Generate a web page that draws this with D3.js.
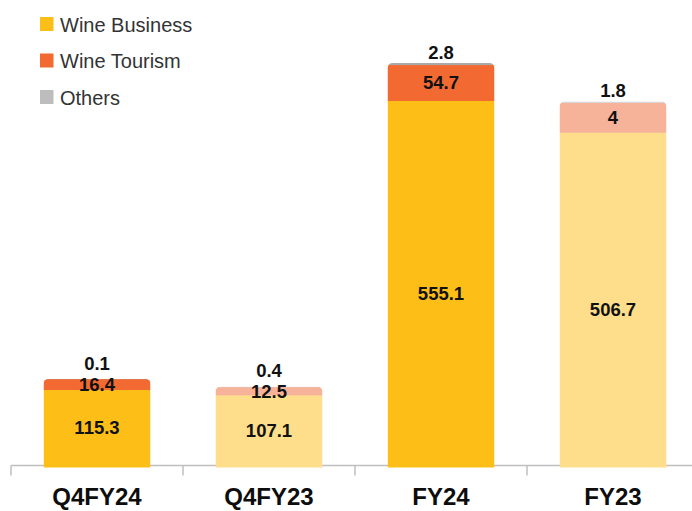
<!DOCTYPE html>
<html>
<head>
<meta charset="utf-8">
<script src="https://cdn.jsdelivr.net/npm/d3@7"></script>
<style>
  html, body { margin: 0; padding: 0; background: #ffffff; }
  svg { display: block; font-family: "Liberation Sans", Arial, sans-serif; }
</style>
</head>
<body>
<svg id="chart" width="692" height="511"></svg>
<script>
const categories = ["Q4FY24", "Q4FY23", "FY24", "FY23"];
const wineBusiness = [115.3, 107.1, 555.1, 506.7];
const wineTourism = [16.4, 12.5, 54.7, 45.5];
const wineTourismLabels = ["16.4", "12.5", "54.7", "4"];
const others = [0.1, 0.4, 2.8, 1.8];
const seriesNames = ["Wine Business", "Wine Tourism", "Others"];

const colorsCurrent = ["#FDBF17", "#F26A31", "#A9A9A9"];
const colorsPrior = ["#FEDE8A", "#F7B39A", "#D6D6D6"];

const svg = d3.select("#chart");
const W = 692, H = 511;
const baseY = 465.5;

const x = d3.scaleBand().domain(categories).range([11, 699])
  .paddingInner(0.378).paddingOuter(0.189);
const y = d3.scaleLinear().domain([0, 700]).range([baseY, baseY - 460]);

const rows = categories.map((c, i) => ({
  cat: c,
  current: c.endsWith("24"),
  vals: [wineBusiness[i], wineTourism[i], others[i]],
  labels: [String(wineBusiness[i]), wineTourismLabels[i], String(others[i])]
}));

const defs = svg.append("defs");
rows.forEach((r, i) => {
  const total = d3.sum(r.vals);
  defs.append("clipPath").attr("id", "clip" + i)
    .append("rect")
    .attr("x", x(r.cat)).attr("width", x.bandwidth())
    .attr("y", y(total)).attr("height", baseY - y(total) + 10)
    .attr("rx", 5).attr("ry", 5);
});

// axis
const axisG = svg.append("g");
axisG.append("line").attr("x1", 11).attr("x2", W).attr("y1", baseY).attr("y2", baseY)
  .attr("stroke", "#BFBFBF").attr("stroke-width", 1.5);
categories.forEach((c, i) => {
  const tx = i === 0 ? 11 : x(c) - (x.step() - x.bandwidth()) / 2;
  axisG.append("line").attr("x1", tx).attr("x2", tx).attr("y1", baseY).attr("y2", baseY + 10)
    .attr("stroke", "#BFBFBF").attr("stroke-width", 1.5);
});

// bars
rows.forEach((r, i) => {
  const g = svg.append("g").attr("clip-path", "url(#clip" + i + ")");
  let acc = 0;
  r.vals.forEach((v, k) => {
    const y0 = y(acc), y1 = y(acc + v);
    g.append("rect")
      .attr("x", x(r.cat)).attr("width", x.bandwidth())
      .attr("y", y1).attr("height", Math.max(0, y0 - y1) + (k === 0 ? 2 : 0.3))
      .attr("fill", (r.current ? colorsCurrent : colorsPrior)[k]);
    acc += v;
  });
});

// labels
rows.forEach((r, i) => {
  const cx = x(r.cat) + x.bandwidth() / 2;
  let acc = 0;
  let tourismY = 0;
  r.vals.forEach((v, k) => {
    const y0 = y(acc), y1 = y(acc + v);
    let ly;
    if (k < 2) {
      ly = (y0 + y1) / 2 + 6.5 + (k === 0 && v > 300 ? 10 : 0);
      if (k === 1) tourismY = ly;
    } else {
      ly = Math.min(y1 - 4, tourismY - 21);
    }
    svg.append("text").attr("x", cx).attr("y", ly)
      .attr("text-anchor", "middle")
      .attr("font-size", 18.5).attr("font-weight", "bold").attr("fill", "#111111")
      .text(r.labels[k]);
    acc += v;
  });
});

// x labels
categories.forEach(c => {
  svg.append("text").attr("x", x(c) + x.bandwidth() / 2).attr("y", 505)
    .attr("text-anchor", "middle").attr("font-size", 24).attr("font-weight", "bold")
    .attr("fill", "#0d0d0d").text(c);
});

// legend
const leg = svg.append("g");
seriesNames.forEach((s, k) => {
  const ly = 17 + k * 36.5;
  leg.append("rect").attr("x", 40).attr("y", ly).attr("width", 13.5).attr("height", 14)
    .attr("fill", k === 2 ? "#BDBDBD" : colorsCurrent[k]);
  leg.append("text").attr("x", 60).attr("y", ly + 14.5)
    .attr("font-size", 20).attr("fill", "#333333").text(s);
});
</script>
</body>
</html>
